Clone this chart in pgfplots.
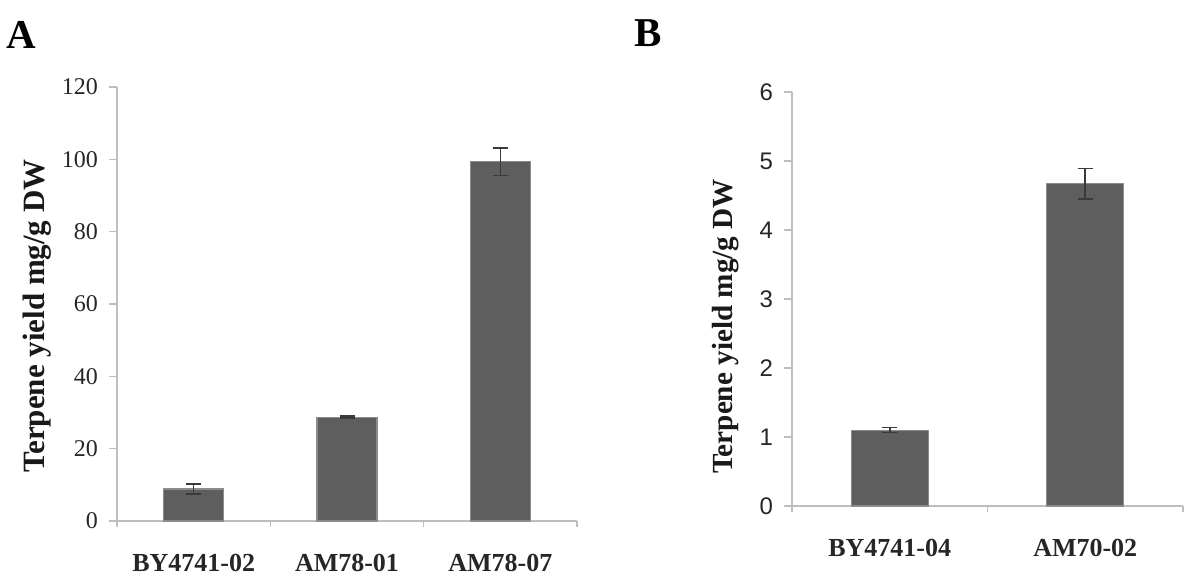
\documentclass[border=0pt]{standalone}
\usepackage{pgfplots}
\pgfplotsset{compat=1.18}
\usepackage{fontspec}
\setmainfont{Liberation Serif}
\newfontfamily\arial{Liberation Sans}
\definecolor{barfill}{HTML}{5E5E5E}
\definecolor{baredge}{HTML}{8C8C8C}
\definecolor{axgray}{HTML}{BEBEBE}
\definecolor{errc}{HTML}{3A3A3A}
\pgfplotsset{
  common/.style={
    scale only axis,
    anchor=south west,
    axis x line*=bottom, axis y line*=left,
    axis line style={-, draw=axgray, line width=0.8pt},
    tick align=outside,
    major x tick style={draw=none},
    minor x tick style={draw=axgray, line width=0.8pt},
    ytick style={draw=axgray, line width=0.8pt},
    major tick length=4pt,
    minor tick length=3pt,
    xtick=data,
    ymin=0,
    ybar, bar shift=0pt,
    /pgf/number format/assume math mode=true,
    xticklabel style={font=\fontsize{13}{15}\selectfont\bfseries, text=black!85, anchor=center, inner sep=0.5pt, text depth=0pt, yshift=-17pt},
    clip=false,
    error bars/y dir=both, error bars/y explicit,
    error bars/error bar style={draw=errc, line width=0.8pt},
    error bars/error mark options={rotate=90, mark size=3.75pt, draw=errc, line width=0.8pt},
  }
}
\begin{document}
\begin{tikzpicture}
\useasboundingbox (0,0) rectangle (600pt,287pt);
% Panel A
\begin{axis}[common,
  at={(58.5pt,26.5pt)},
  width=230pt, height=217pt,
  xmin=-0.5, xmax=2.5, ymax=120,
  ytick={0,20,40,60,80,100,120},
  minor xtick={-0.5,0.5,1.5,2.5},
  xticklabels={BY4741-02,AM78-01,AM78-07},
  yticklabel style={font=\fontsize{12}{14}\selectfont, text=black!85, xshift=-2pt},
  bar width=30pt,
]
\addplot[fill=barfill, draw=baredge, line width=0.6pt] coordinates {
  (0,8.85) +- (0,1.4)
  (1,28.7) +- (0,0.25)
  (2,99.3) +- (0,3.8)
};
\end{axis}
% Panel B
\begin{axis}[common,
  at={(396pt,34pt)},
  width=195.5pt, height=207pt,
  xmin=-0.5, xmax=1.5, ymax=6,
  ytick={0,1,2,3,4,5,6},
  minor xtick={-0.5,0.5,1.5},
  xticklabels={BY4741-04,AM70-02},
  yticklabel style={font=\arial\fontsize{12}{14}\selectfont, text=black!85, xshift=-2pt},
  bar width=38.5pt,
]
\addplot[fill=barfill, draw=baredge, line width=0.6pt] coordinates {
  (0,1.10) +- (0,0.035)
  (1,4.67) +- (0,0.22)
};
\end{axis}
% y labels
\node[rotate=90, font=\fontsize{15.5}{18}\selectfont\bfseries, text=black!90] at (18.5pt,129pt) {Terpene yield mg/g DW};
\node[rotate=90, font=\fontsize{14.6}{17}\selectfont\bfseries, text=black!90] at (363pt,123.75pt) {Terpene yield mg/g DW};
% panel letters
\node[font=\fontsize{20.5}{24}\selectfont\bfseries] at (10.75pt,269.5pt) {A};
\node[font=\fontsize{20.5}{24}\selectfont\bfseries] at (324.25pt,270.25pt) {B};
\end{tikzpicture}
\end{document}
